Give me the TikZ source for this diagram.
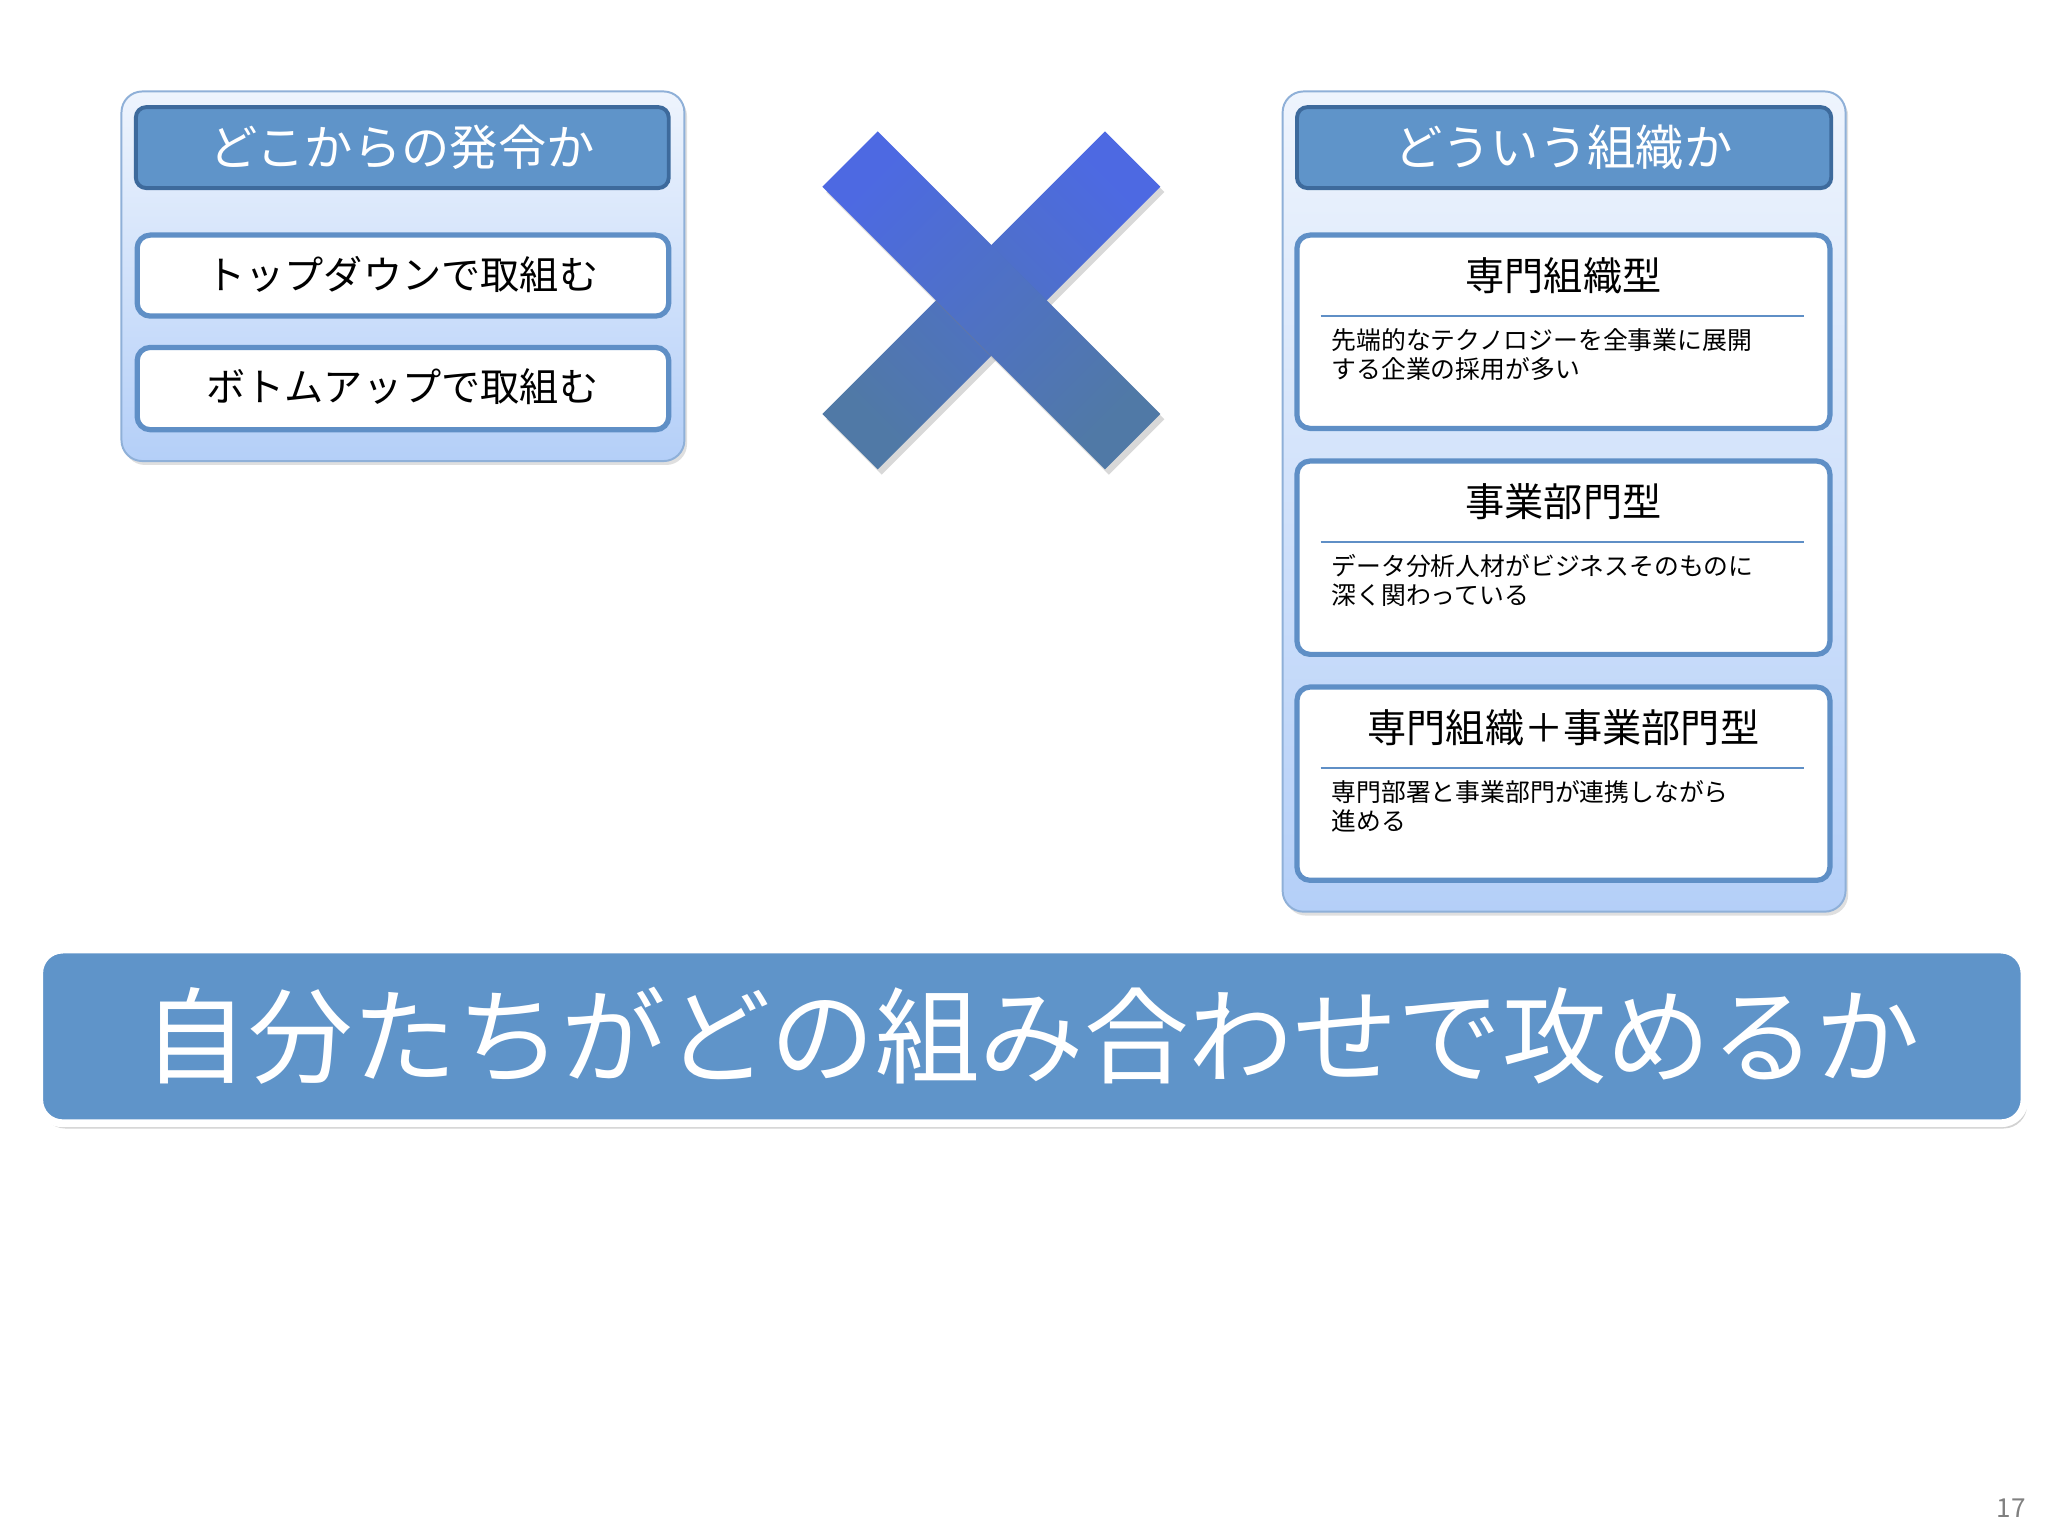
\documentclass[tikz,border=0pt]{standalone}
\usepackage{fontspec}
\setmainfont{Noto Sans CJK JP}
\usetikzlibrary{shadows}
\definecolor{hdr}{HTML}{5F94C9}
\definecolor{hdrb}{HTML}{3D6A9C}
\definecolor{bx}{HTML}{5F8FC6}
\definecolor{pnltop}{HTML}{EEF4FD}
\definecolor{pnlbot}{HTML}{B4CFF8}
\definecolor{pnlb}{HTML}{8FB0D8}
\tikzset{
 panel/.style={draw=pnlb,line width=1.5pt,rounded corners=16pt,top color=pnltop,bottom color=pnlbot,drop shadow={opacity=0.25,shadow xshift=2pt,shadow yshift=-3pt}},
 hdrbox/.style={draw=hdrb,line width=3pt,rounded corners=8pt,fill=hdr},
 item/.style={draw=bx,line width=4pt,rounded corners=10pt,fill=white},
 ttl/.style={font=\fontsize{30}{34}\selectfont},
 det/.style={font=\fontsize{19}{22}\selectfont,align=left,anchor=north west},
}
\begin{document}
\begin{tikzpicture}[x=1pt,y=-1pt]
\useasboundingbox[fill=white] (0,0) rectangle (1568,1176);
% left panel
\path[panel] (93,70) rectangle (524,353);
\path[hdrbox] (104,82) rectangle (512,144);
\node[text=white,font=\fontsize{37}{40}\selectfont] (lh) at (308,113) {どこからの発令か};
\path[item] (105,180) rectangle (512,242);
\node[ttl] (l1) at (308,210) {トップダウンで取組む};
\path[item] (105,266) rectangle (512,329);
\node[ttl] (l2) at (308,296) {ボトムアップで取組む};
% cross
\begin{scope}[shift={(759,230)}]
\foreach \a in {45,-45}{
 \path[rotate=\a,top color=hdr!60!blue!90!white,bottom color=hdrb!90,shading angle=-\a,drop shadow={opacity=0.3,shadow xshift=3pt,shadow yshift=-4pt}] (-153,-30) rectangle (153,30);
}
\end{scope}
% right panel
\path[panel] (982,70) rectangle (1413,698);
\path[hdrbox] (993,82) rectangle (1402,144);
\node[text=white,font=\fontsize{37}{40}\selectfont] (rh) at (1197,113) {どういう組織か};
\foreach \y/\t/\d [count=\i] in {180/専門組織型/{先端的なテクノロジーを全事業に展開\\する企業の採用が多い},353/事業部門型/{データ分析人材がビジネスそのものに\\深く関わっている},526/専門組織＋事業部門型/{専門部署と事業部門が連携しながら\\進める}}{
 \path[item] (993,\y) rectangle (1401,\y+148);
 \node[ttl] (t\i) at (1197,\y+31) {\t};
 \draw[bx,line width=1.5pt] (1011,\y+62) -- (1381,\y+62);
 \node[det] (d\i) at (1016,\y+68) {\d};
}
% banner
\path[draw=white,line width=6pt,rounded corners=18pt,fill=hdr,drop shadow={opacity=0.35,shadow xshift=2pt,shadow yshift=-4pt}] (30,727) rectangle (1550,860);
\node[text=white,font=\fontsize{80}{90}\selectfont] (b) at (790,793) {自分たちがどの組み合わせで攻めるか};
\node[text=gray,font=\fontsize{20}{22}\selectfont] (pg) at (1540,1155) {17};
\end{tikzpicture}
\end{document}
